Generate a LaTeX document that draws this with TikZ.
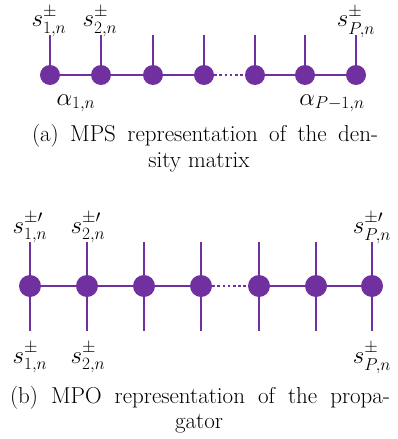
\documentclass[tikz,border=0pt]{standalone}
\usepackage{amsmath}
\definecolor{mpurple}{HTML}{7030A0}
\begin{document}
\begin{tikzpicture}[x=1pt,y=-1pt,
  site/.style={circle,fill=mpurple,inner sep=0pt,minimum size=20pt},
  bigsite/.style={circle,fill=mpurple,inner sep=0pt,minimum size=22pt},
  bond/.style={draw=mpurple,line width=2.7pt},
  dotbond/.style={draw=mpurple,line width=2.7pt,dash pattern=on 2.6pt off 2.6pt},
  lbl/.style={font=\fontsize{25}{29}\selectfont,inner sep=0pt,anchor=base},
  captext/.style={font=\fontsize{23}{27}\selectfont,inner sep=0pt,anchor=base}]
\useasboundingbox (0,0) rectangle (398,439);
% (a) MPS
\foreach \i/\x in {1/50,2/101,3/153,4/204,5/255,6/305,7/356}{
  \coordinate (at\i) at (\x,35);
  \node[site] (a\i) at (\x,75) {};
}
\foreach \i in {1,...,7}{\draw[bond] (at\i) -- (a\i);}
\draw[bond] (a1) -- (a2);
\draw[bond] (a2) -- (a3);
\draw[bond] (a3) -- (a4);
\draw[dotbond] (a4) -- (a5);
\draw[bond] (a5) -- (a6);
\draw[bond] (a6) -- (a7);
\node[lbl] (la1) at (49,27) {$s^{\pm}_{1,n}$};
\node[lbl] (la2) at (100,27) {$s^{\pm}_{2,n}$};
\node[lbl] (la7) at (356,27) {$s^{\pm}_{P,n}$};
\node[lbl] (al1) at (76,105) {$\alpha_{1,n}$};
\node[lbl] (al2) at (332,105) {$\alpha_{P-1,n}$};
\node[captext] (capa1) at (205,141) {\makebox[346pt][s]{(a) MPS representation of the den-}};
\node[captext] (capa2) at (199,167) {sity matrix};
% (b) MPO
\foreach \i/\x in {1/30,2/87,3/144,4/201,5/259,6/316,7/372}{
  \coordinate (bt\i) at (\x,242);
  \coordinate (bb\i) at (\x,331);
  \node[bigsite] (b\i) at (\x,286) {};
}
\foreach \i in {1,...,7}{\draw[bond] (bt\i) -- (b\i) -- (bb\i);}
\draw[bond] (b1) -- (b2);
\draw[bond] (b2) -- (b3);
\draw[bond] (b3) -- (b4);
\draw[dotbond] (b4) -- (b5);
\draw[bond] (b5) -- (b6);
\draw[bond] (b6) -- (b7);
\node[lbl] (lb1) at (30,233) {$s^{\pm\prime}_{1,n}$};
\node[lbl] (lb2) at (88,233) {$s^{\pm\prime}_{2,n}$};
\node[lbl] (lb7) at (372,233) {$s^{\pm\prime}_{P,n}$};
\node[lbl] (lc1) at (30,363) {$s^{\pm}_{1,n}$};
\node[lbl] (lc2) at (88,363) {$s^{\pm}_{2,n}$};
\node[lbl] (lc7) at (372,363) {$s^{\pm}_{P,n}$};
\node[captext] (capb1) at (200,403) {\makebox[380pt][s]{(b) MPO representation of the propa-}};
\node[captext] (capb2) at (199,428) {gator};
\end{tikzpicture}
\end{document}
